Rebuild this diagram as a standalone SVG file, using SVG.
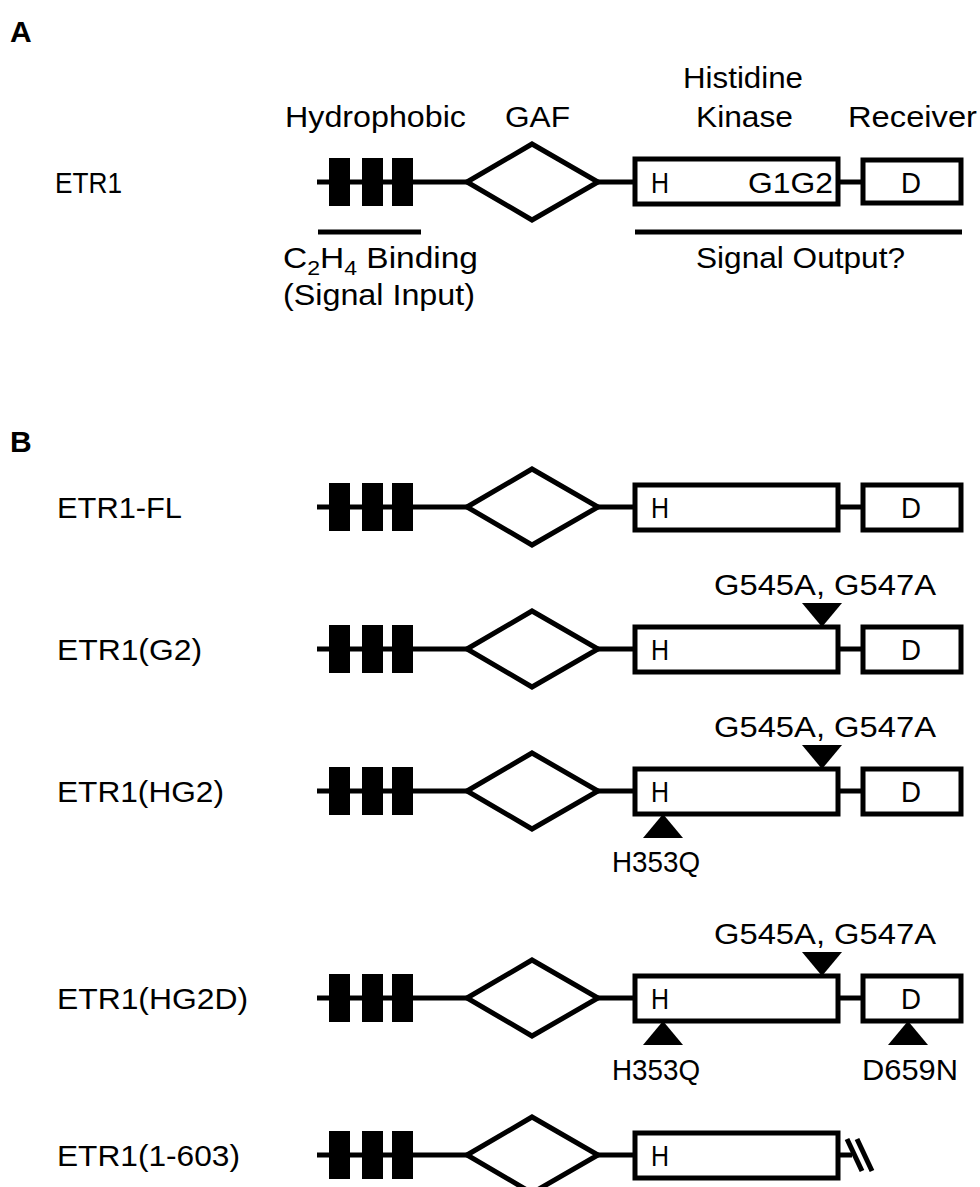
<svg xmlns="http://www.w3.org/2000/svg" width="980" height="1187" viewBox="0 0 980 1187">
<style>
.t{font-family:"Liberation Sans",Arial,sans-serif;font-size:29px;fill:#000}
.h{font-family:"Liberation Sans",Arial,sans-serif;font-size:30px;font-weight:bold;fill:#000}
.ln{stroke:#000;stroke-width:5;fill:none}
.bx{stroke:#000;stroke-width:5;fill:#fff}
.bar{fill:#000}
.tri{fill:#000}
</style>
<defs>
<g id="core">
<line class="ln" x1="317" y1="0" x2="636" y2="0"/>
<rect class="bar" x="329" y="-24" width="21" height="48"/>
<rect class="bar" x="362" y="-24" width="21" height="48"/>
<rect class="bar" x="392" y="-24" width="21" height="48"/>
<polygon class="bx" points="467,0 532,-38 598,0 532,38"/>
</g>
<g id="hk">
<line class="ln" x1="838" y1="0" x2="863" y2="0"/>
<rect class="bx" x="635" y="-22" width="203" height="45"/>
<rect class="bx" x="863" y="-22" width="98" height="45"/>
<text class="t" x="651" y="11" textLength="18" lengthAdjust="spacingAndGlyphs">H</text>
<text class="t" x="901" y="11" textLength="20" lengthAdjust="spacingAndGlyphs">D</text>
</g>
<polygon id="down" class="tri" points="-20,-24 20,-24 0,0"/>
<polygon id="up" class="tri" points="-20,24 20,24 0,0"/>
</defs>

<text class="h" x="10" y="42">A</text>
<text class="h" x="10" y="452">B</text>

<g id="etr1">
<text class="t" x="55" y="193" textLength="67" lengthAdjust="spacingAndGlyphs">ETR1</text>
<text class="t" x="285" y="127" textLength="181" lengthAdjust="spacingAndGlyphs">Hydrophobic</text>
<text class="t" x="505" y="127" textLength="65" lengthAdjust="spacingAndGlyphs">GAF</text>
<text class="t" x="683" y="88" textLength="120" lengthAdjust="spacingAndGlyphs">Histidine</text>
<text class="t" x="696" y="127" textLength="97" lengthAdjust="spacingAndGlyphs">Kinase</text>
<text class="t" x="848" y="127" textLength="129" lengthAdjust="spacingAndGlyphs">Receiver</text>
<use href="#core" y="182"/>
<line class="ln" x1="838" y1="182" x2="863" y2="182"/>
<rect class="bx" x="635" y="159" width="203" height="45"/>
<rect class="bx" x="863" y="160" width="98" height="43"/>
<text class="t" x="651" y="193" textLength="18" lengthAdjust="spacingAndGlyphs">H</text>
<text class="t" x="748" y="193" textLength="85" lengthAdjust="spacingAndGlyphs">G1G2</text>
<text class="t" x="901" y="193" textLength="20" lengthAdjust="spacingAndGlyphs">D</text>
<line class="ln" x1="318" y1="232" x2="421" y2="232"/>
<line class="ln" x1="635" y1="232" x2="962" y2="232"/>
<text class="t" x="283" y="268" textLength="195" lengthAdjust="spacingAndGlyphs">C<tspan font-size="20" dy="7">2</tspan><tspan dy="-7">H</tspan><tspan font-size="20" dy="7">4</tspan><tspan dy="-7"> Binding</tspan></text>
<text class="t" x="283" y="305" textLength="192" lengthAdjust="spacingAndGlyphs">(Signal Input)</text>
<text class="t" x="696" y="268" textLength="209" lengthAdjust="spacingAndGlyphs">Signal Output?</text>
</g>

<g id="etr1-fl">
<text class="t" x="57" y="518" textLength="125" lengthAdjust="spacingAndGlyphs">ETR1-FL</text>
<use href="#core" y="507"/>
<use href="#hk" y="507"/>
</g>

<g id="etr1-g2">
<text class="t" x="57" y="660" textLength="145" lengthAdjust="spacingAndGlyphs">ETR1(G2)</text>
<use href="#core" y="649"/>
<use href="#hk" y="649"/>
<text class="t" x="714" y="595" textLength="222" lengthAdjust="spacingAndGlyphs">G545A, G547A</text>
<use href="#down" x="822" y="627"/>
</g>

<g id="etr1-hg2">
<text class="t" x="57" y="802" textLength="167" lengthAdjust="spacingAndGlyphs">ETR1(HG2)</text>
<use href="#core" y="791"/>
<use href="#hk" y="791"/>
<text class="t" x="714" y="737" textLength="222" lengthAdjust="spacingAndGlyphs">G545A, G547A</text>
<use href="#down" x="822" y="769"/>
<use href="#up" x="663" y="814"/>
<text class="t" x="612" y="872" textLength="88" lengthAdjust="spacingAndGlyphs">H353Q</text>
</g>

<g id="etr1-hg2d">
<text class="t" x="57" y="1009" textLength="191" lengthAdjust="spacingAndGlyphs">ETR1(HG2D)</text>
<use href="#core" y="998"/>
<use href="#hk" y="998"/>
<text class="t" x="714" y="944" textLength="222" lengthAdjust="spacingAndGlyphs">G545A, G547A</text>
<use href="#down" x="822" y="976"/>
<use href="#up" x="663" y="1021"/>
<use href="#up" x="908" y="1021"/>
<text class="t" x="612" y="1080" textLength="88" lengthAdjust="spacingAndGlyphs">H353Q</text>
<text class="t" x="862" y="1080" textLength="96" lengthAdjust="spacingAndGlyphs">D659N</text>
</g>

<g id="etr1-1-603">
<text class="t" x="57" y="1166" textLength="183" lengthAdjust="spacingAndGlyphs">ETR1(1-603)</text>
<use href="#core" y="1155"/>
<line class="ln" x1="838" y1="1155" x2="852" y2="1155"/>
<rect class="bx" x="635" y="1133" width="203" height="45"/>
<text class="t" x="651" y="1166" textLength="18" lengthAdjust="spacingAndGlyphs">H</text>
<line class="ln" x1="847" y1="1139" x2="862" y2="1171"/>
<line class="ln" x1="857" y1="1139" x2="872" y2="1171"/>
</g>
</svg>
